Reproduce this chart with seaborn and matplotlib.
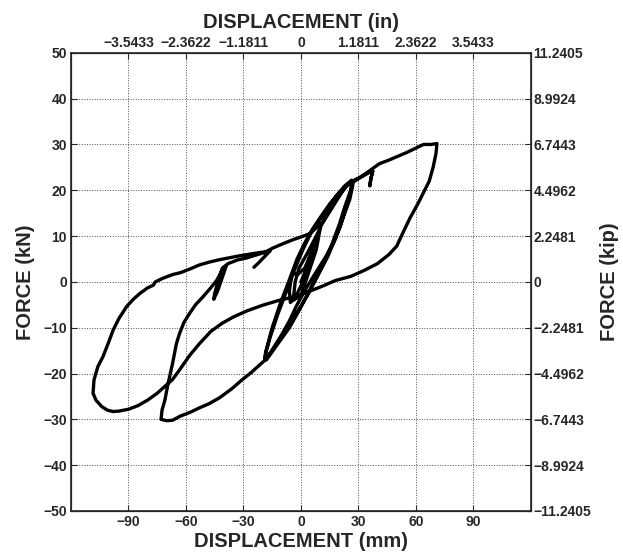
import numpy as np
import pandas as pd
import matplotlib
matplotlib.use("Agg")
import matplotlib.pyplot as plt
import seaborn as sns

disp_mm = [
    # малые циклы около нуля
    0, 3, 6, 8, 5, 1, -3, -5.5, -6, -5, -4, -2, 2, 6, 10, 8, 4, 0, -4, -3, -1, 3, 8, 12,
    # циклы до (26, 22) / (-19, -17)
    16, 20, 24, 26.5, 27, 25.5, 22, 18, 14, 9, 4, -1, -6, -11, -15, -18.5, -19, -16, -12,
    -7.5, -3, 1, 5, 9, 13, 18, 23, 26.5, 26, 23, 20, 16, 11, 5, 0, -6, -12, -18, -18.5,
    -15, -11, -6, -2, 2, 6, 10, 15, 20, 25, 27,
    # до 37 мм, крючок и возврат
    30, 33, 36, 37.5, 36.5, 36, 36.5, 37.5, 36, 33, 30, 27.5,
    # разгрузка до (-73, -30)
    25.5, 23, 20.5, 17, 13, 8, 3, -2, -6, -10, -14, -18, -22, -26, -30.5, -36, -42.5,
    -48, -53, -58, -63, -67, -70, -73,
    # нагружение обратно
    -72.5, -71, -69.5, -67, -65, -63.3, -61, -58, -55, -51, -47.5, -44, -41, -39,
    -41, -43.5, -45.5, -45, -43, -41, -38, -33, -28.5, -24, -19, -14.6, -9, -4.2, 0,
    4.5, 8, 11.5, 15, 19, 23.7, 28, 32.3, 37, 41, 46, 50, 55, 60, 64, 68, 71,
    # большая петля
    70.5, 69, 67, 64, 61, 57, 53, 50, 46, 40, 33, 26, 18, 12, 6, 0, -6, -12, -20, -28,
    -35, -41, -47, -53, -58, -63, -67, -71, -75, -80, -85, -90, -95, -98, -101, -104,
    -107, -108.5, -108, -106, -103.3, -100.5, -98, -95, -91, -87.5, -84, -80, -77, -76,
    -72, -67, -63, -58, -53, -48, -43, -38, -32, -26, -21.5, -18, -16, -19, -22, -24.5,
]
force_kn = [
    0, 3, 6.5, 9.5, 5, 0, -3.5, -4.5, -2, 1, 2, 1.5, 3, 7, 11.5, 7, 2, -3, -4, 0, 3, 6, 10, 13.5,
    16.5, 19, 21, 22, 21, 18, 14, 9.5, 5.5, 1.5, -2.5, -6, -9.5, -12.5, -15, -17, -16.5, -12, -7,
    -2, 3, 7, 10.5, 13, 15.5, 18.5, 21, 22.2, 20, 16.5, 12.5, 8, 3.5, -1.5, -5.5, -10, -13.5, -17, -15.5,
    -10, -5, 0.5, 5, 8.5, 11.5, 14, 17, 19.5, 21.5, 22,
    22.6, 23.3, 24, 24.2, 22.5, 21, 22.5, 24.2, 24, 23.3, 22.6, 22,
    19, 15.5, 12, 8.5, 5.5, 2.2, -1.2, -5, -8.5, -11.5, -14.2, -16.8, -18.3, -19.8, -21.3, -23.3, -25.3,
    -26.6, -27.5, -28.5, -29.3, -30.2, -30.3, -30,
    -28, -25.8, -22.5, -17.8, -13.5, -11.2, -8.8, -6.8, -5, -3.2, -1.5, 0.3, 2.6, 3.5,
    1, -2, -3.8, -2.5, 0.5, 3, 4, 4.8, 5.2, 5.8, 6.4, 7.4, 8.4, 9.2, 9.8,
    10.5, 11.8, 13, 15.3, 18, 21, 22, 23.2, 24.6, 25.8, 26.6, 27.3, 28.2, 29.2, 30, 30, 30.2,
    28, 25, 22, 19.5, 17, 14, 10.5, 7.8, 6, 4, 2.5, 1.2, 0.3, -0.8, -1.8, -2.8, -3.5, -4.1, -5.1, -6.3,
    -7.6, -9, -10.8, -13.5, -16, -19, -21.3, -22.8, -24.3, -25.8, -27, -27.8, -28.2, -28.3, -28, -27.2,
    -25.8, -24.3, -21.4, -18.5, -16.3, -13.3, -10.5, -8, -5.4, -3.8, -2.5, -1.3, -0.7, 0,
    0.8, 1.6, 2, 2.8, 3.7, 4.3, 4.8, 5.2, 5.7, 6.1, 6.4, 6.6, 6.8, 5.5, 4.2, 3.2,
]

mm_ticks = [-90, -60, -30, 0, 30, 60, 90]
in_labels = ['\u22123.5433', '\u22122.3622', '\u22121.1811', '0', '1.1811', '2.3622', '3.5433']
kn_ticks = [-50, -40, -30, -20, -10, 0, 10, 20, 30, 40, 50]
kip_labels = ['\u221211.2405', '\u22128.9924', '\u22126.7443', '\u22124.4962', '\u22122.2481', '0',
              '2.2481', '4.4962', '6.7443', '8.9924', '11.2405']

df = pd.DataFrame({'disp': disp_mm, 'force': force_kn})

sns.set_style("ticks")
plt.rcParams['font.family'] = ['Liberation Sans', 'DejaVu Sans']
plt.rcParams['font.weight'] = 'bold'
plt.rcParams['axes.labelweight'] = 'bold'

fig = plt.figure(figsize=(6.23, 5.56), dpi=100)
ax = fig.add_axes([0.114, 0.081, 0.738, 0.824])

sns.lineplot(data=df, x='disp', y='force', sort=False, estimator=None,
             color='black', linewidth=2.4, ax=ax)

ax.set_xlim(-120, 120)
ax.set_ylim(-50, 50)
ax.set_xticks(mm_ticks)
ax.set_yticks(kn_ticks)
ax.grid(True, linestyle=':', color='0.3', linewidth=0.7)
ax.tick_params(direction='in', length=4, labelsize=10, width=0.8, pad=3)
ax.set_xlabel('DISPLACEMENT (mm)', fontsize=14.5, labelpad=2)
ax.set_ylabel('FORCE (kN)', fontsize=14.5, labelpad=6)
for s in ax.spines.values():
    s.set_linewidth(1.2)

# верхняя ось в дюймах
ax_top = ax.twiny()
ax_top.set_xlim(ax.get_xlim())
ax_top.set_xticks(mm_ticks)
ax_top.set_xticklabels(in_labels)
ax_top.tick_params(direction='in', length=4, labelsize=10, pad=2)
ax_top.set_xlabel('DISPLACEMENT (in)', fontsize=14.5, labelpad=6)

# правая ось в kip
ax_r = ax.twinx()
ax_r.set_ylim(ax.get_ylim())
ax_r.set_yticks(kn_ticks)
ax_r.set_yticklabels(kip_labels)
ax_r.tick_params(direction='in', length=4, labelsize=10, pad=2)
ax_r.set_ylabel('FORCE (kip)', fontsize=14.5, labelpad=6)

fig.savefig('out.png', dpi=100)
